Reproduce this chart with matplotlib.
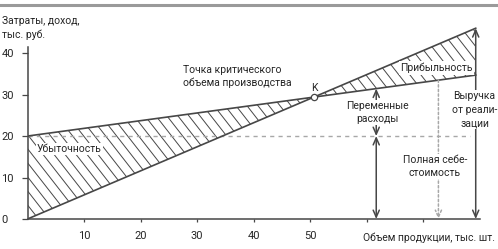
import numpy as np
import matplotlib
matplotlib.use("Agg")
import matplotlib.pyplot as plt
from matplotlib.patches import FancyArrowPatch
from matplotlib.collections import LineCollection
from matplotlib.lines import Line2D

plt.rcParams['font.family'] = ['Roboto', 'DejaVu Sans']

# data (thousand pieces / thousand rub.)
volume = [0, 79.3]
revenue = [0, 46.0]
total_cost = [20, 34.7]
fixed_cost = 20
fixed_end = 78.3
var_cost_at = 61.7      # where the fixed / variable cost arrows stand
full_cost_at = 72.7     # dotted "full cost" marker
revenue_at = 79.3       # revenue arrow
x_ticks = [10, 20, 30, 40, 50, 60, 70]
x_labels = ['10', '20', '30', '40', '50', '', '']
y_ticks = [0, 10, 20, 30, 40]

dark = '#474747'
light = '#a8a8a8'
txt = '#262626'
fs = 7.5

fig = plt.figure(figsize=(4.98, 2.49), dpi=100)
ax = fig.add_axes([27.5 / 498, 30 / 249, 455 / 498, 197 / 249])
ax.set_xlim(0, 80.5)
ax.set_ylim(0, 47.5)

# break-even point from the two lines
rs = (revenue[1] - revenue[0]) / (volume[1] - volume[0])
cs = (total_cost[1] - total_cost[0]) / (volume[1] - volume[0])
kx = (total_cost[0] - revenue[0]) / (rs - cs)
ky = revenue[0] + rs * kx

# shaded regions (loss / profit)
xs = np.array(volume)
poly = ax.fill_between(xs, revenue, total_cost, facecolor='none', edgecolor='none')

# diagonal hatching clipped to the regions
p0 = ax.transData.transform((0, 0))
p1 = ax.transData.transform((1, 1))
pxx, pxy = p1 - p0
ang = np.deg2rad(52)
m = np.tan(ang) * pxx / pxy
step = 11.0 / pxx
segs = []
for c in np.arange(0, 50 + m * 82, m * step):
    segs.append([(-1, c + m), (82, c - m * 82)])
hatch = LineCollection(segs, colors=dark, linewidths=0.7)
ax.add_collection(hatch)
hatch.set_clip_path(poly.get_paths()[0], poly.get_transform())

# fixed cost dashed line
ax.plot([0, fixed_end], [fixed_cost, fixed_cost], color=light, lw=1.0,
        dashes=(3, 3), zorder=2)

# revenue and total cost
ax.plot(volume, revenue, color=dark, lw=1.2, zorder=3)
ax.plot(volume, total_cost, color=dark, lw=1.2, zorder=3)
ax.plot([kx], [ky], marker='o', ms=4.5, mfc='white', mec=dark, mew=0.9, zorder=5)


def arrow(x, y0, y1, style, color, ls='-'):
    a = FancyArrowPatch((x, y0), (x, y1), arrowstyle=style, color=color,
                        lw=1.1, linestyle=ls, shrinkA=0, shrinkB=0,
                        mutation_scale=1, zorder=4)
    ax.add_patch(a)


tc_var = np.interp(var_cost_at, volume, total_cost)
tc_full = np.interp(full_cost_at, volume, total_cost)
rev_top = np.interp(revenue_at, volume, revenue)
hs = '<->,head_length=5,head_width=2.2'
arrow(var_cost_at, 0, fixed_cost, hs, dark)
arrow(var_cost_at, fixed_cost, tc_var, hs, dark)
arrow(revenue_at, 0, rev_top, hs, dark)
arrow(full_cost_at, tc_full, 0, '->,head_length=5,head_width=2.2', light, ls=(0, (1.5, 1.5)))

box = dict(facecolor='white', edgecolor='none', pad=1.0)
ax.text(var_cost_at + 0.3, 25.7, 'Переменные\nрасходы', ha='center', va='center',
        fontsize=fs, color=txt, linespacing=1.3, bbox=box, zorder=6)
ax.text(full_cost_at - 0.6, 12.65, 'Полная себе-\nстоимость', ha='center', va='center',
        fontsize=fs, color=txt, linespacing=1.3, bbox=box, zorder=6)
ax.text(revenue_at - 0.2, 26.4, 'Выручка\nот реали-\nзации', ha='center', va='center',
        fontsize=fs, color=txt, linespacing=1.45, bbox=box, zorder=6)
ax.text(72.4, 36.4, 'Прибыльность', ha='center', va='center',
        fontsize=fs, color=txt, bbox=box, zorder=6)
ax.text(7.4, 16.9, 'Убыточность', ha='center', va='center',
        fontsize=fs, color=txt, bbox=box, zorder=6)
ax.text(27.5, 34.3, 'Точка критического\nобъема производства', ha='left', va='center',
        fontsize=fs, color=txt, linespacing=1.3, zorder=6)
ax.text(kx, ky + 2.2, 'K', ha='center', va='center', fontsize=fs, color=txt, zorder=6)

# axes
for s in ['top', 'right']:
    ax.spines[s].set_visible(False)
for s in ['left', 'bottom']:
    ax.spines[s].set_color(dark)
    ax.spines[s].set_linewidth(1.1)
ax.spines['left'].set_bounds(0, 41.4)
ax.spines['bottom'].set_bounds(0, 80.1)

ax.set_yticks(y_ticks)
ax.set_yticklabels([str(v) for v in y_ticks], ha='left')
ax.tick_params(axis='y', direction='out', length=4, width=0.9, color=dark,
               pad=14.8, labelsize=8, labelcolor=txt)
ax.set_xticks(x_ticks)
ax.set_xticklabels(x_labels)
ax.tick_params(axis='x', direction='out', length=2.3, width=0.9, color=dark,
               pad=6.2, labelsize=8, labelcolor=txt)

fig.text(495 / 498, 1 - 238 / 249, 'Объем продукции, тыс. шт.', ha='right', va='center',
         fontsize=fs, color=txt)
fig.text(2 / 498, 1 - 28 / 249, 'Затраты, доход,\nтыс. руб.', ha='left', va='center',
         fontsize=fs, color=txt, linespacing=1.4)

# grey rule along the top
fig.add_artist(Line2D([0, 1], [1 - 5 / 249, 1 - 5 / 249], color='#9a9a9a', lw=2.2,
                      transform=fig.transFigure))

fig.savefig('out.png', dpi=100)
